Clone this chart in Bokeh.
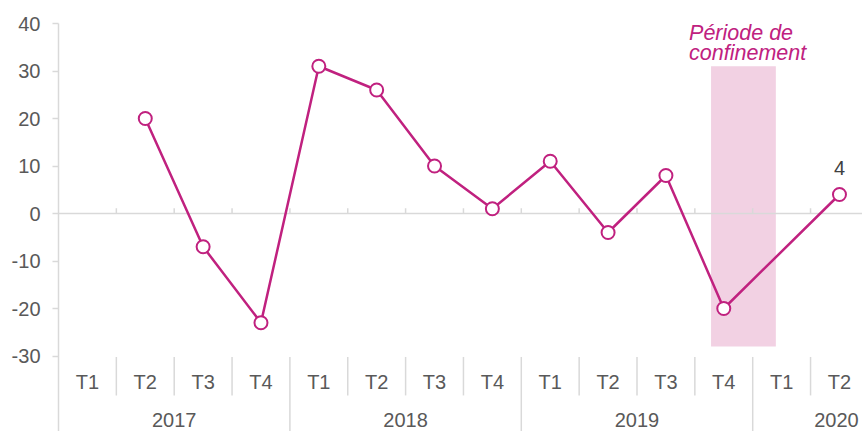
from bokeh.plotting import figure
from bokeh.models import (ColumnDataSource, FixedTicker, Label, LabelSet, Range1d,
                          CustomJSTickFormatter)
from bokeh.core.properties import value
from bokeh.embed import file_html
from bokeh.resources import INLINE

# ---- data ----
years = ["2017", "2018", "2019", "2020"]
quarters_per_year = [4, 4, 4, 2]
quarters = ["T1", "T2", "T3", "T4"] * 3 + ["T1", "T2"]
values = [None, 20, -7, -23, 31, 26, 10, 1, 11, -4, 8, -20, None, 4]
y_ticks = [-30, -20, -10, 0, 10, 20, 30, 40]
period_text = ["Période de", "confinement"]
period_x = [11.28, 12.40]   # category units
period_y = [-28, 31]

MAG = "#C0217F"
GRID = "#D9D9D9"
TXT = "#595959"
FONT = "Liberation Sans"

n = len(quarters)
W, H = 862, 431
BL, BT = 58, 23
UX, UY = 57.85, 4.75
x_end = (W - BL) / UX
y_start = 40 - (H - BT) / UY

p = figure(width=W, height=H, output_backend="svg", toolbar_location=None,
           x_range=Range1d(0, x_end), y_range=Range1d(y_start, 40),
           min_border_left=BL, min_border_right=0, min_border_top=BT,
           min_border_bottom=0)
p.outline_line_color = None
p.xgrid.visible = False
p.ygrid.visible = False
p.xaxis.visible = False

ya = p.yaxis[0]
ya.ticker = FixedTicker(ticks=y_ticks)
ya.formatter = CustomJSTickFormatter(code="return tick.toFixed(0);")
ya.axis_line_color = GRID
ya.axis_line_width = 1.5
ya.major_tick_line_color = GRID
ya.major_tick_line_width = 1.5
ya.major_tick_out = 6
ya.major_tick_in = 0
ya.minor_tick_line_color = None
ya.major_label_text_font = FONT
ya.major_label_text_font_size = "20px"
ya.major_label_text_color = TXT
ya.major_label_standoff = 12

# confinement period
p.quad(left=[period_x[0]], right=[period_x[1]], bottom=[period_y[0]], top=[period_y[1]],
       fill_color="#F2D1E3", line_color=None)

# zero line and small ticks
p.segment(x0=[0], y0=[0], x1=[x_end], y1=[0], line_color=GRID, line_width=1.5)
kb = list(range(1, n))
p.segment(x0=kb, y0=[0] * len(kb), x1=kb, y1=[1.1] * len(kb), line_color=GRID, line_width=1.5)

# category separators
year_bounds = []
acc = 0
for c in quarters_per_year[:-1]:
    acc += c
    year_bounds.append(acc)
q_bounds = [k for k in range(1, n) if k not in year_bounds]
p.segment(x0=q_bounds, y0=[-30.2] * len(q_bounds), x1=q_bounds, y1=[-38.3] * len(q_bounds),
          line_color=GRID, line_width=1.5)
p.segment(x0=year_bounds, y0=[-30.2] * len(year_bounds), x1=year_bounds,
          y1=[y_start] * len(year_bounds), line_color=GRID, line_width=1.5)

# category labels
qx = [i + 0.5 for i in range(n)]
qsrc = ColumnDataSource(dict(x=qx, y=[-35.4] * n, t=quarters))
p.add_layout(LabelSet(x="x", y="y", text="t", source=qsrc, text_align="center",
                      text_baseline="middle", text_font=value(FONT),
                      text_font_size=value("20px"), text_color=TXT))
# year labels centred on a full 4-quarter year, kept inside the visible range
yx = [min(4 * k + 2, x_end - 0.45) for k in range(len(years))]
ysrc = ColumnDataSource(dict(x=yx, y=[-43.5] * len(years), t=years))
p.add_layout(LabelSet(x="x", y="y", text="t", source=ysrc, text_align="center",
                      text_baseline="middle", text_font=value(FONT),
                      text_font_size=value("20px"), text_color=TXT))

# series
px = [qx[i] for i, v in enumerate(values) if v is not None]
py = [v for v in values if v is not None]
src = ColumnDataSource(dict(x=px, y=py))
p.line("x", "y", source=src, line_color=MAG, line_width=2.5)
p.scatter("x", "y", source=src, size=13, fill_color="white", line_color=MAG, line_width=2)

# last value label
p.add_layout(Label(x=px[-1], y=py[-1], text=str(py[-1]), y_offset=27, text_align="center",
                   text_baseline="middle", text_font=FONT, text_font_size="20px",
                   text_color="#404040"))

# period annotation
for i, t in enumerate(period_text):
    p.add_layout(Label(x=10.9, y=38.1 - i * 4.4, text=t, text_align="left",
                       text_baseline="alphabetic", text_font=FONT, text_font_size="21.5px",
                       text_font_style="italic", text_color=MAG))

open("out.html", "w").write(file_html(p, INLINE))
